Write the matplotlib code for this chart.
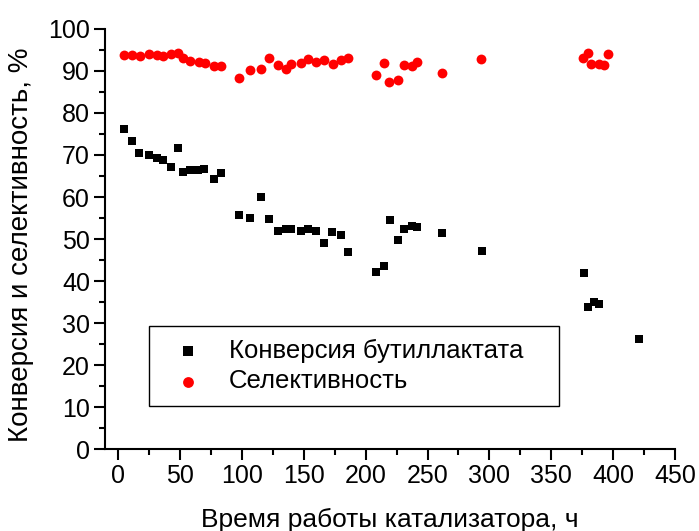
import matplotlib
matplotlib.use('Agg')
import matplotlib.pyplot as plt
from matplotlib.ticker import MultipleLocator

plt.rcParams['font.family'] = ['Liberation Sans', 'DejaVu Sans']

# Конверсия бутиллактата, %
conv_t = [4.6, 11.1, 17.0, 25.1, 31.1, 36.5, 42.7, 47.9, 52.7, 58.1, 64.1, 69.7,
          77.0, 83.0, 97.9, 106.8, 115.7, 122.2, 129.3, 135.2, 139.3, 147.4, 153.6,
          160.1, 166.3, 173.1, 180.4, 185.7, 208.2, 214.9, 219.3, 225.8, 231.1,
          237.4, 241.4, 261.5, 293.9, 376.3, 379.8, 384.4, 388.5, 420.9]
conv = [76.1, 73.3, 70.5, 70.0, 69.2, 68.8, 67.1, 71.7, 65.9, 66.4, 66.4, 66.7,
        64.2, 65.7, 55.8, 54.9, 59.9, 54.8, 52.0, 52.4, 52.5, 51.9, 52.4,
        52.0, 49.1, 51.7, 50.9, 47.0, 42.1, 43.5, 54.6, 49.8, 52.3,
        53.1, 52.9, 51.4, 47.1, 41.8, 33.9, 35.1, 34.5, 26.2]

# Селективность, %
sel_t = [4.6, 11.4, 17.3, 25.2, 31.1, 36.5, 42.5, 48.2, 52.7, 58.1, 64.9, 70.3,
         77.0, 83.0, 97.9, 106.8, 115.7, 122.2, 129.3, 135.2, 139.8, 147.4, 153.6,
         160.1, 166.3, 173.3, 180.4, 186.0, 208.2, 214.6, 219.2, 226.3, 231.1,
         237.2, 241.7, 261.5, 293.6, 376.0, 380.1, 382.5, 388.2, 392.3, 395.5]
sel = [93.8, 93.7, 93.6, 94.0, 93.8, 93.6, 94.0, 94.4, 93.0, 92.3, 92.1, 91.8,
       91.1, 91.3, 88.4, 90.2, 90.5, 93.0, 91.4, 90.5, 91.6, 91.8, 92.9,
       92.2, 92.7, 91.7, 92.6, 93.1, 89.0, 91.8, 87.4, 87.9, 91.5,
       91.1, 92.2, 89.6, 92.9, 93.0, 94.2, 91.7, 91.7, 91.5, 94.0]

fig = plt.figure(figsize=(6.99, 5.31), dpi=100)
ax = fig.add_axes([0.1506, 0.1544, 0.815, 0.791])

ax.scatter(conv_t, conv, marker='s', s=40, color='black', linewidths=0,
           label='Конверсия бутиллактата', zorder=3)
ax.scatter(sel_t, sel, marker='o', s=50, color='red', linewidths=0,
           label='Селективность', zorder=3)

ax.set_xlim(-10.5, 450)
ax.set_ylim(0, 100)
ax.xaxis.set_major_locator(MultipleLocator(50))
ax.xaxis.set_minor_locator(MultipleLocator(25))
ax.yaxis.set_major_locator(MultipleLocator(10))
ax.yaxis.set_minor_locator(MultipleLocator(5))

for side in ('top', 'right'):
    ax.spines[side].set_visible(False)
for side in ('left', 'bottom'):
    ax.spines[side].set_linewidth(1.5)

ax.tick_params(which='major', direction='out', length=8, width=1.5, labelsize=18, pad=3)
ax.tick_params(which='minor', direction='out', length=4.5, width=1.5)

ax.set_xlabel('Время работы катализатора, ч', fontsize=19)
ax.xaxis.set_label_coords(0.5, -0.14)
ax.set_ylabel('Конверсия и селективность, %', fontsize=20)
ax.yaxis.set_label_coords(-0.125, 0.486)

leg = ax.legend(loc='upper left', bbox_to_anchor=(149 / 699, 205 / 531, 410 / 699, 0),
                bbox_transform=fig.transFigure, mode='expand', fontsize=18.5,
                frameon=True, fancybox=False, edgecolor='black', framealpha=1,
                borderpad=0.5, handlelength=2.0, handletextpad=0.6,
                labelspacing=0.25, borderaxespad=0, markerscale=1.1,
                scatterpoints=1)
leg.get_frame().set_linewidth(1.0)

fig.savefig('out.png', dpi=100)
